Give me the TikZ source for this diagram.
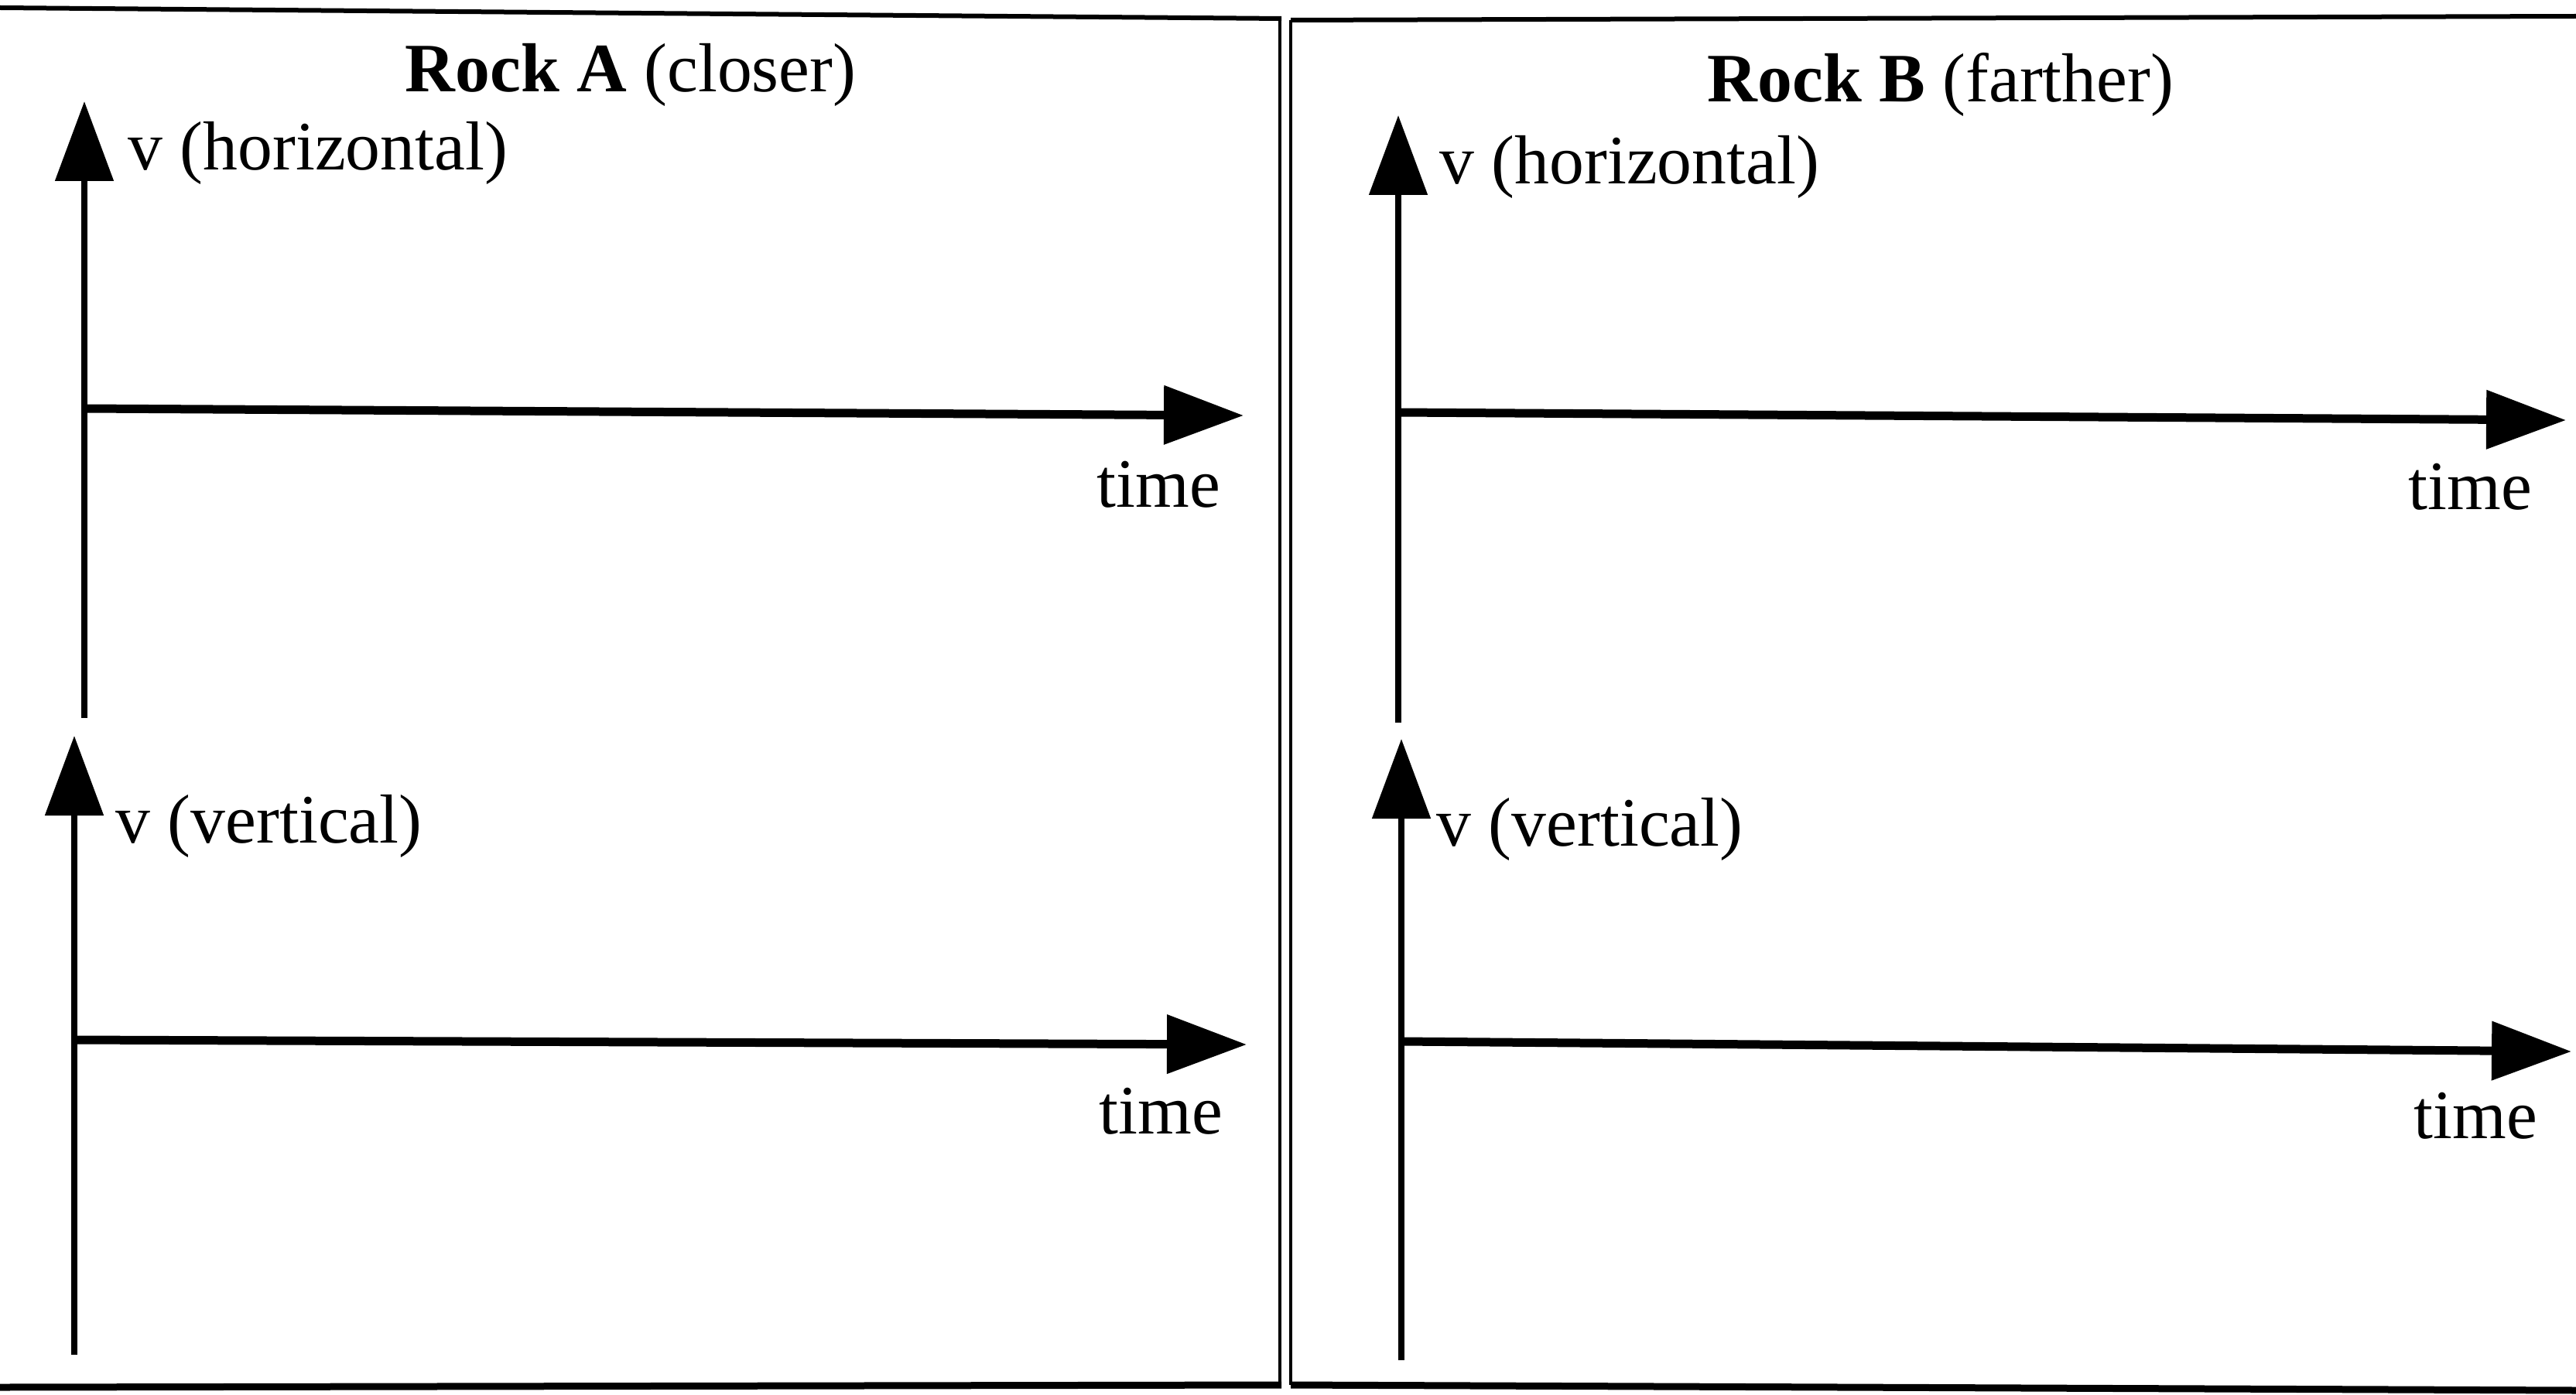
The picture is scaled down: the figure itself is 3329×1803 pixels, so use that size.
\documentclass[tikz,border=0pt]{standalone}
\usepackage{fontspec}
\setmainfont{Liberation Serif}
\usetikzlibrary{arrows.meta}
\begin{document}
\begin{tikzpicture}[x=0.1mm,y=-0.1mm,
  vaxis/.style={line width=0.85mm, -{Triangle[length=10.3mm,width=7.4mm]}},
  haxis/.style={line width=1.1mm, -{Triangle[length=10.3mm,width=7.4mm]}},
  frameline/.style={line width=0.6mm},
  lbl/.style={font=\fontsize{25.5pt}{30pt}\selectfont, inner sep=0pt, anchor=base west},
  ttl/.style={font=\fontsize{25.5pt}{30pt}\selectfont, inner sep=0pt, anchor=base}]
\useasboundingbox (0,0) rectangle (3329,1803);
% frame
\coordinate (tA1) at (0,10);
\coordinate (tA2) at (1656,24);
\coordinate (tB1) at (1668,26);
\coordinate (tB2) at (3329,21);
\coordinate (bA1) at (0,1793);
\coordinate (bA2) at (1656,1790);
\coordinate (bB1) at (1668,1790);
\coordinate (bB2) at (3329,1797);
\coordinate (dA1) at (1654,24);
\coordinate (dA2) at (1654,1790);
\coordinate (dB1) at (1668,26);
\coordinate (dB2) at (1668,1790);
\draw[frameline] (tA1) -- (tA2);
\draw[frameline] (tB1) -- (tB2);
\draw[line width=0.9mm] (bA1) -- (bA2);
\draw[line width=0.9mm] (bB1) -- (bB2);
\draw[line width=0.4mm] (dA1) -- (dA2);
\draw[line width=0.4mm] (dB1) -- (dB2);
% titles
\node[ttl] (titleA) at (815,119) {\textbf{Rock A} (closer)};
\node[ttl] (titleB) at (2508,132) {\textbf{Rock B} (farther)};
% Rock A axes
\coordinate (A1b) at (109,928);
\coordinate (A1t) at (109,131);
\coordinate (A1o) at (109,528);
\coordinate (A1r) at (1607,537);
\coordinate (A2b) at (96,1751);
\coordinate (A2t) at (96,951);
\coordinate (A2o) at (96,1344);
\coordinate (A2r) at (1611,1350);
\draw[vaxis] (A1b) -- (A1t);
\draw[haxis] (A1o) -- (A1r);
\draw[vaxis] (A2b) -- (A2t);
\draw[haxis] (A2o) -- (A2r);
\node[lbl] (vhA) at (165,220) {v (horizontal)};
\node[lbl] (tA) at (1417,655) {time};
\node[lbl] (vvA) at (149,1089) {v (vertical)};
\node[lbl] (tA2n) at (1420,1465) {time};
% Rock B axes
\coordinate (B1b) at (1807,934);
\coordinate (B1t) at (1807,149);
\coordinate (B1o) at (1807,533);
\coordinate (B1r) at (3316,543);
\coordinate (B2b) at (1811,1758);
\coordinate (B2t) at (1811,955);
\coordinate (B2o) at (1811,1346);
\coordinate (B2r) at (3323,1359);
\draw[vaxis] (B1b) -- (B1t);
\draw[haxis] (B1o) -- (B1r);
\draw[vaxis] (B2b) -- (B2t);
\draw[haxis] (B2o) -- (B2r);
\node[lbl] (vhB) at (1860,238) {v (horizontal)};
\node[lbl] (tB) at (3112,658) {time};
\node[lbl] (vvB) at (1856,1093) {v (vertical)};
\node[lbl] (tB2n) at (3119,1471) {time};
\end{tikzpicture}
\end{document}
